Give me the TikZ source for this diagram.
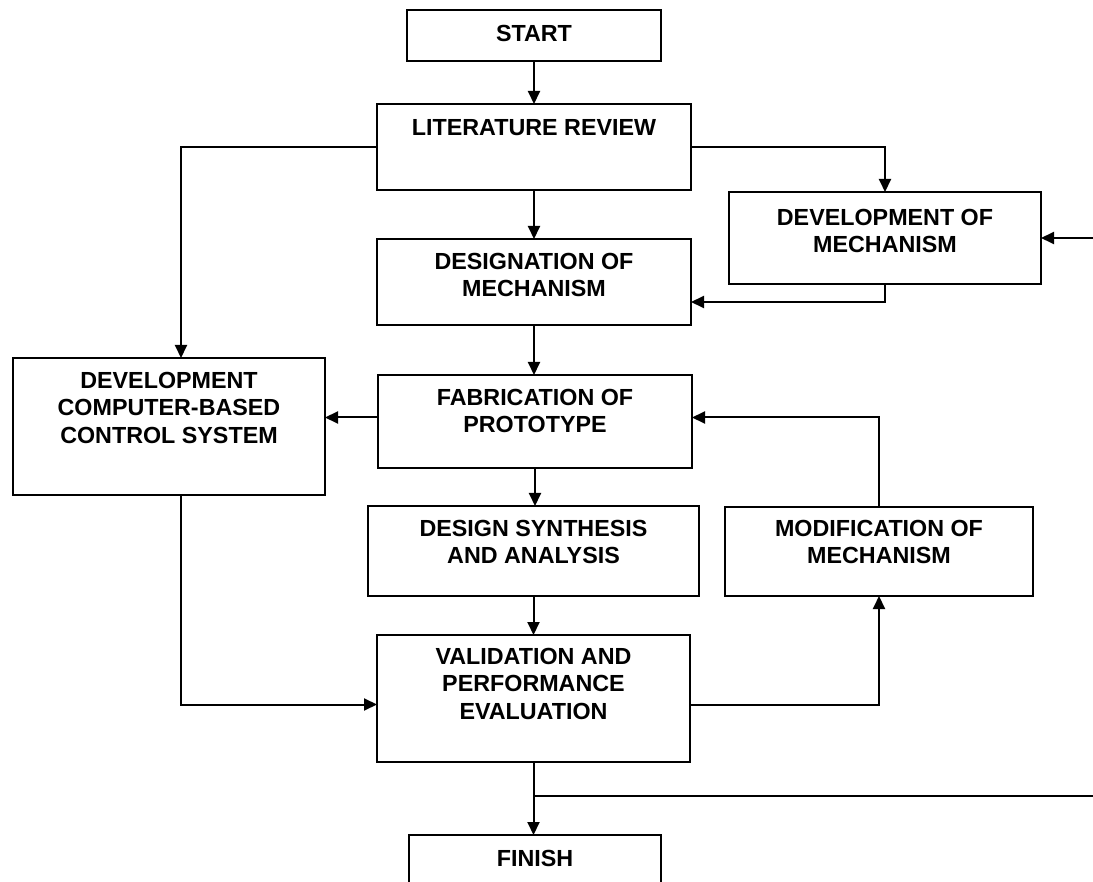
\documentclass[tikz,border=0pt]{standalone}
\usepackage{fontspec}
\setmainfont{Liberation Sans}
\usetikzlibrary{arrows.meta,calc}
\tikzset{
  flowbox/.style={draw, line width=2pt, rectangle, inner sep=0pt, outer sep=0pt, anchor=north},
  boxtext/.style={anchor=north, inner sep=0pt, align=center,
    font=\fontsize{23.3}{27.3}\selectfont\bfseries},
  conn/.style={line width=2pt, -{Triangle[length=13pt,width=12pt]}},
  plain/.style={line width=2pt}
}
\begin{document}
\begin{tikzpicture}[x=1pt,y=-1pt]
\useasboundingbox (0,0) rectangle (1093,882);
% boxes
\node[flowbox, minimum width=254, minimum height=51] (start) at (534,10) {};
\node[flowbox, minimum width=314, minimum height=86] (lit) at (534,104) {};
\node[flowbox, minimum width=312, minimum height=92] (devm) at (885,192) {};
\node[flowbox, minimum width=314, minimum height=86] (desig) at (534,239) {};
\node[flowbox, minimum width=312, minimum height=137] (devc) at (169,358) {};
\node[flowbox, minimum width=314, minimum height=93] (fab) at (535,375) {};
\node[flowbox, minimum width=331, minimum height=90] (dsa) at (533.5,506) {};
\node[flowbox, minimum width=308, minimum height=89] (mod) at (879,507) {};
\node[flowbox, minimum width=313, minimum height=127] (val) at (533.5,635) {};
\node[flowbox, minimum width=252, minimum height=60] (fin) at (535,835) {};
% texts
\node[boxtext] (startT) at ($(start.north)+(0,15)$) {START};
\node[boxtext] (litT) at ($(lit.north)+(0,15)$) {LITERATURE REVIEW};
\node[boxtext] (devmT) at ($(devm.north)+(0,17)$) {DEVELOPMENT OF\\MECHANISM};
\node[boxtext] (desigT) at ($(desig.north)+(0,14)$) {DESIGNATION OF\\MECHANISM};
\node[boxtext] (devcT) at ($(devc.north)+(0,14)$) {DEVELOPMENT\\COMPUTER-BASED\\CONTROL SYSTEM};
\node[boxtext] (fabT) at ($(fab.north)+(0,14)$) {FABRICATION OF\\PROTOTYPE};
\node[boxtext] (dsaT) at ($(dsa.north)+(0,14)$) {DESIGN SYNTHESIS\\AND ANALYSIS};
\node[boxtext] (modT) at ($(mod.north)+(0,13)$) {MODIFICATION OF\\MECHANISM};
\node[boxtext] (valT) at ($(val.north)+(0,13)$) {VALIDATION AND\\PERFORMANCE\\EVALUATION};
\node[boxtext] (finT) at ($(fin.north)+(0,15)$) {FINISH};
% helper coordinates
\coordinate (r2) at (1096,796);
\coordinate (r1) at (devm.east -| r2);
\coordinate (desE) at ($(desig.east)+(0,20)$);
\coordinate (fabW) at ($(fab.west)+(0,-4)$);
\coordinate (fabE) at ($(fab.east)+(0,-4)$);
\coordinate (valW) at ($(val.west)+(0,6)$);
\coordinate (valE) at ($(val.east)+(0,6)$);
\coordinate (devcN) at ($(devc.north)+(12,0)$);
\coordinate (devcS) at ($(devc.south)+(12,0)$);
% connectors
\draw[conn] (start.south) -- (lit.north);
\draw[conn] (lit.south) -- (desig.north);
\draw[conn] (lit.west) -| (devcN);
\draw[conn] (lit.east) -| (devm.north);
\draw[conn] (r1) -- (devm.east);
\draw[conn] (devm.south) |- (desE);
\draw[conn] (desig.south) -- (desig.south |- fab.north);
\draw[conn] (fabW) -- (fabW -| devc.east);
\draw[conn] (fab.south) -- (fab.south |- dsa.north);
\draw[conn] (dsa.south) -- (dsa.south |- val.north);
\draw[conn] (devcS) |- (valW);
\draw[conn] (valE) -| (mod.south);
\draw[conn] (mod.north) |- (fabE);
\draw[conn] (val.south) -- (val.south |- fin.north);
\draw[plain, line width=2.6pt] (val.south |- r2) -- (r2);
\end{tikzpicture}
\end{document}
